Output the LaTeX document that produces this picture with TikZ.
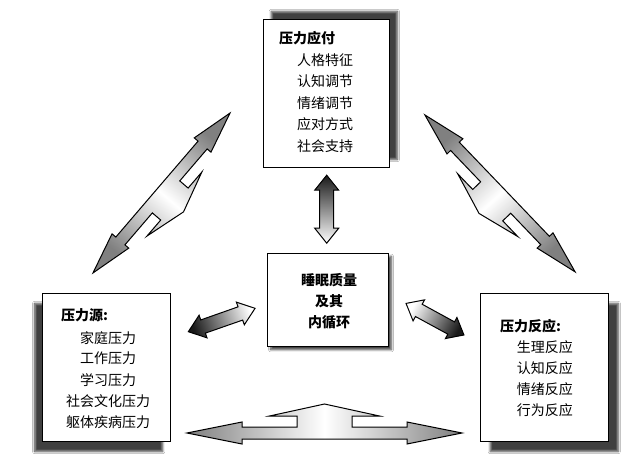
\documentclass[tikz,border=0pt]{standalone}
\usepackage{fontspec}
\setmainfont{Noto Sans CJK SC}
\usetikzlibrary{shadows.blur}

\tikzset{
  box/.style={draw, line width=1.1pt, fill=white, inner sep=0pt},
  boxshadow/.style 2 args={blur shadow={shadow xshift=#1, shadow yshift=#2,
      shadow opacity=75, shadow blur steps=6}},
  title/.style={font=\fontsize{14}{17}\selectfont\bfseries, inner sep=0pt},
  item/.style={font=\fontsize{14}{17}\selectfont, inner sep=0pt},
  pics/triarrow/.style={code={
    \draw[line width=1pt, left color=black!50, right color=black!50, middle color=white,
        shading angle=#1]
      (137.5,0) -- (82.5,11) -- (82.5,6) -- (-82.5,6) -- (-82.5,11) -- (-137.5,0)
      -- (-82.5,-11) -- (-82.5,-6) -- (-27.5,-6) -- (-27.5,-17) -- (-55,-17)
      -- (0,-29) -- (55,-17) -- (27.5,-17) -- (27.5,-6) -- (82.5,-6) -- (82.5,-11) -- cycle;
  }},
  pics/dblarrow/.style={code={
    \draw[line width=1pt, left color=white, right color=black!90, shading angle=#1]
      (34,0) -- (19,12) -- (19,7) -- (-19,7) -- (-19,12) -- (-34,0)
      -- (-19,-12) -- (-19,-7) -- (19,-7) -- (19,-12) -- cycle;
  }}
}

\begin{document}
\begin{tikzpicture}[x=1pt, y=-1pt]
\fill[white] (0,0) rectangle (640,474);
\useasboundingbox (0,0) rectangle (640,474);

% boxes
\node[box, boxshadow={8pt}{8pt}, minimum width=126pt, minimum height=148pt] (cope) at (326.3,93.5) {};
\node[box, boxshadow={-8pt}{-10pt}, minimum width=128pt, minimum height=148pt] (source) at (106.7,367.5) {};
\node[box, boxshadow={10pt}{-10pt}, minimum width=128pt, minimum height=148pt] (response) at (544.2,367.5) {};
\node[box, boxshadow={3pt}{-3pt}, minimum width=120.6pt, minimum height=93.4pt] (sleep) at (328,300) {};

% texts
\node[title, anchor=west] (cope-t) at (279,38.3) {压力应付};
\foreach \t [count=\i] in {人格特征,认知调节,情绪调节,应对方式,社会支持}
  \node[item, anchor=west] (cope-\i) at (297,{60+21.5*(\i-1)}) {\t};

\node[title, anchor=west] (source-t) at (61,315) {压力源:};
\foreach \t [count=\i] in {家庭压力,工作压力,学习压力,社会文化压力,躯体疾病压力}
  \node[item] (source-\i) at (108,{337.7+21*(\i-1)}) {\t};

\node[title, anchor=west] (response-t) at (500,326) {压力反应:};
\foreach \t [count=\i] in {生理反应,认知反应,情绪反应,行为反应}
  \node[item, anchor=west] (response-\i) at (516.7,{347.3+20.9*(\i-1)}) {\t};

\foreach \t [count=\i] in {睡眠质量,及其,内循环}
  \node[title] (sleep-\i) at (329,{280+21*(\i-1)}) {\t};

% big arrows
\pic[rotate=-130.6, xscale=0.766] (srccope) at (161.5,193) {triarrow=-40.6};
\pic[rotate=133.75, xscale=0.79] (coperesp) at (500,193.4) {triarrow=43.75};
\pic (srcresp) at (324.5,433) {triarrow=90};

% small arrows
\pic[rotate=90] (sleepcope) at (326.7,209.2) {dblarrow=180};
\pic[rotate=199.3, xscale=1.04] (sleepsrc) at (221.7,320) {dblarrow=289.3};
\pic[rotate=-28.6, xscale=0.97] (sleepresp) at (435,319.2) {dblarrow=61.4};
\end{tikzpicture}
\end{document}
